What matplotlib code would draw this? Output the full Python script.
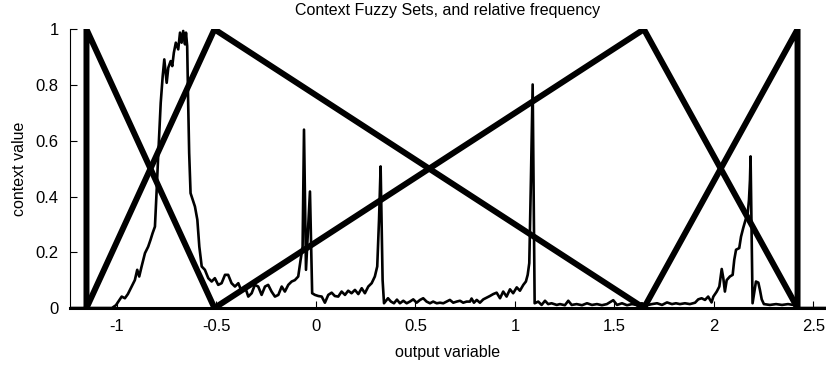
import numpy as np
import matplotlib
matplotlib.use("Agg")
import matplotlib.pyplot as plt

plt.rcParams['font.family'] = ['Liberation Sans', 'DejaVu Sans']

# fuzzy set vertices (output variable, context value)
set1_x = [-1.153, -1.153, -0.51]
set1_y = [0, 1, 0]
set2_x = [-1.153, -0.51, 1.648]
set2_y = [0, 1, 0]
set3_x = [-0.51, 1.648, 2.42]
set3_y = [0, 1, 0]
set4_x = [1.648, 2.42, 2.42]
set4_y = [0, 1, 0]

# relative frequency
freq_x = [-1.236, -1.025, -1.005, -0.976, -0.960, -0.945, -0.926, -0.910, -0.898, -0.888,
          -0.876, -0.859, -0.843, -0.831, -0.821, -0.809, -0.801, -0.792, -0.780, -0.770,
          -0.762, -0.750, -0.742, -0.730, -0.722, -0.714, -0.704, -0.692, -0.683, -0.675,
          -0.667, -0.658, -0.653, -0.647, -0.642, -0.637, -0.630, -0.608, -0.596, -0.586,
          -0.574, -0.558, -0.541, -0.524, -0.508, -0.491, -0.474, -0.457, -0.441, -0.424,
          -0.407, -0.390, -0.373, -0.357, -0.340, -0.323, -0.307, -0.290, -0.273, -0.256,
          -0.240, -0.223, -0.206, -0.189, -0.172, -0.156, -0.139, -0.122, -0.106, -0.089,
          -0.077, -0.067, -0.060, -0.050, -0.030, -0.019, -0.005, 0.012, 0.029, 0.045,
          0.062, 0.079, 0.095, 0.112, 0.129, 0.146, 0.162, 0.179, 0.196, 0.213,
          0.230, 0.246, 0.263, 0.280, 0.296, 0.308, 0.317, 0.325, 0.335, 0.342,
          0.362, 0.377, 0.392, 0.407, 0.422, 0.439, 0.456, 0.472, 0.489, 0.506,
          0.523, 0.539, 0.556, 0.573, 0.589, 0.607, 0.623, 0.640, 0.657, 0.673,
          0.690, 0.707, 0.724, 0.740, 0.757, 0.774, 0.782, 0.794, 0.808, 0.824,
          0.841, 0.858, 0.874, 0.891, 0.908, 0.925, 0.941, 0.958, 0.975, 0.991,
          1.009, 1.025, 1.042, 1.055, 1.064, 1.072, 1.080, 1.089, 1.099, 1.117,
          1.134, 1.151, 1.167, 1.184, 1.210, 1.226, 1.251, 1.268, 1.285, 1.310,
          1.337, 1.362, 1.387, 1.412, 1.437, 1.462, 1.494, 1.513, 1.538, 1.563,
          1.588, 1.613, 1.638, 1.663, 1.688, 1.714, 1.739, 1.764, 1.789, 1.809,
          1.829, 1.854, 1.879, 1.905, 1.921, 1.938, 1.955, 1.971, 1.988, 1.997,
          2.014, 2.027, 2.039, 2.047, 2.055, 2.064, 2.080, 2.094, 2.102, 2.111,
          2.127, 2.136, 2.147, 2.159, 2.169, 2.176, 2.181, 2.184, 2.194, 2.211,
          2.223, 2.231, 2.240, 2.251, 2.281, 2.312, 2.342, 2.372, 2.399, 2.422,
          2.563]
freq_y = [0, 0, 0.01, 0.041, 0.035, 0.05, 0.077, 0.1, 0.137, 0.113,
          0.149, 0.197, 0.22, 0.245, 0.268, 0.292, 0.412, 0.556, 0.736, 0.832,
          0.892, 0.808, 0.862, 0.886, 0.868, 0.916, 0.952, 0.928, 0.988, 0.952,
          0.994, 0.946, 0.988, 0.94, 0.736, 0.556, 0.412, 0.364, 0.317, 0.22,
          0.149, 0.137, 0.107, 0.095, 0.107, 0.083, 0.089, 0.119, 0.119, 0.089,
          0.077, 0.089, 0.059, 0.077, 0.041, 0.053, 0.083, 0.077, 0.047, 0.077,
          0.083, 0.059, 0.041, 0.047, 0.077, 0.059, 0.083, 0.095, 0.1, 0.113,
          0.173, 0.22, 0.64, 0.137, 0.418, 0.053, 0.047, 0.043, 0.041, 0.019,
          0.047, 0.055, 0.043, 0.041, 0.059, 0.047, 0.062, 0.053, 0.065, 0.05,
          0.071, 0.053, 0.077, 0.089, 0.113, 0.149, 0.317, 0.508, 0.1, 0.017,
          0.035, 0.023, 0.017, 0.03, 0.017, 0.026, 0.017, 0.023, 0.031, 0.019,
          0.029, 0.035, 0.023, 0.017, 0.023, 0.017, 0.019, 0.017, 0.023, 0.029,
          0.019, 0.023, 0.026, 0.019, 0.023, 0.023, 0.034, 0.019, 0.029, 0.019,
          0.031, 0.037, 0.043, 0.05, 0.055, 0.035, 0.059, 0.041, 0.067, 0.053,
          0.074, 0.062, 0.083, 0.095, 0.119, 0.161, 0.45, 0.802, 0.017, 0.023,
          0.011, 0.026, 0.014, 0.017, 0.011, 0.014, 0.01, 0.026, 0.011, 0.014,
          0.01, 0.017, 0.011, 0.014, 0.01, 0.014, 0.028, 0.011, 0.017, 0.01,
          0.014, 0.011, 0.017, 0.01, 0.014, 0.017, 0.011, 0.02, 0.014, 0.017,
          0.014, 0.017, 0.014, 0.019, 0.031, 0.035, 0.029, 0.041, 0.02, 0.041,
          0.059, 0.077, 0.14, 0.107, 0.059, 0.1, 0.113, 0.119, 0.173, 0.209,
          0.215, 0.256, 0.287, 0.317, 0.335, 0.388, 0.46, 0.544, 0.017, 0.095,
          0.091, 0.065, 0.031, 0.014, 0.011, 0.014, 0.011, 0.014, 0.011, 0,
          0]

x_ticks = [-1, -0.5, 0, 0.5, 1, 1.5, 2, 2.5]
x_tick_labels = ['-1', '-0.5', '0', '0.5', '1', '1.5', '2', '2.5']
y_ticks = [0, 0.2, 0.4, 0.6, 0.8, 1]
y_tick_labels = ['0', '0.2', '0.4', '0.6', '0.8', '1']

fig = plt.figure(figsize=(8.26, 3.69), dpi=100)
ax = fig.add_axes([0.0847, 0.1653, 0.9153, 0.7553])

for sx, sy in [(set1_x, set1_y), (set2_x, set2_y), (set3_x, set3_y), (set4_x, set4_y)]:
    ax.plot(sx, sy, color='k', linewidth=4.3, solid_joinstyle='miter', solid_capstyle='butt')
ax.plot(freq_x, freq_y, color='k', linewidth=1.9)

ax.set_xlim(-1.236, 2.563)
ax.set_ylim(0, 1)
ax.set_xticks(x_ticks)
ax.set_xticklabels(x_tick_labels)
ax.set_yticks(y_ticks)
ax.set_yticklabels(y_tick_labels)
ax.tick_params(direction='in', length=5, width=0.8, labelsize=12, pad=8)

ax.spines['top'].set_visible(False)
ax.spines['right'].set_visible(False)
ax.spines['left'].set_linewidth(0.8)
ax.spines['bottom'].set_linewidth(2.2)

ax.set_title('Context Fuzzy Sets, and relative frequency', fontsize=11.5, pad=10)
ax.set_xlabel('output variable', fontsize=11.5, labelpad=8)
ax.set_ylabel('context value', fontsize=11.5, labelpad=6)

fig.savefig('out.png', dpi=100)
